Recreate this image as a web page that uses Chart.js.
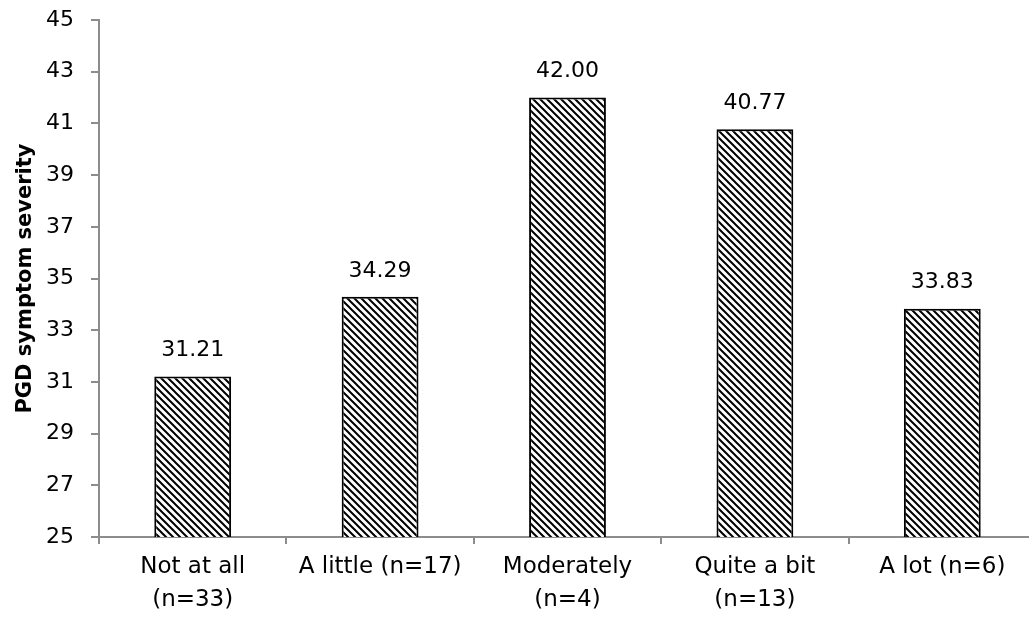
<!doctype html>
<html lang="en">
<head>
    <meta charset="utf-8">
    <title>PGD symptom severity</title>
    <script src="https://cdn.jsdelivr.net/npm/chart.js@4.4.0/dist/chart.umd.min.js"></script>
    <style>
        html, body { margin: 0; padding: 0; background: #fff; overflow: hidden; }
        #wrap { width: 1040px; height: 621px; }
    </style>
</head>
<body>
<div id="wrap"><canvas id="myChart"></canvas></div>
<script>
    // data
    const categories = [
        ["Not at all", "(n=33)"],
        ["A little (n=17)"],
        ["Moderately", "(n=4)"],
        ["Quite a bit", "(n=13)"],
        ["A lot (n=6)"]
    ];
    const severity = [31.21, 34.29, 42.00, 40.77, 33.83];
    const yMin = 25, yMax = 45, yStep = 2;

    // diagonal hatch fill
    let makeHatch = () => {
        const pc = document.createElement("canvas");
        pc.width = 7; pc.height = 7;
        const g = pc.getContext("2d");
        g.fillStyle = "#fff";
        g.fillRect(0, 0, 7, 7);
        g.strokeStyle = "#000";
        g.lineWidth = 2;
        g.beginPath();
        g.moveTo(-1, -1); g.lineTo(8, 8);
        g.moveTo(-1, 6); g.lineTo(1, 8);
        g.moveTo(6, -1); g.lineTo(8, 1);
        g.stroke();
        return g.createPattern(pc, "repeat");
    };

    const axisGray = "#8c8c8c";
    const fontFam = "'DejaVu Sans', sans-serif";

    // value labels above each bar
    const valueLabels = {
        id: "valueLabels",
        afterDatasetsDraw(chart) {
            const ctx = chart.ctx;
            const meta = chart.getDatasetMeta(0);
            ctx.save();
            ctx.font = "22px " + fontFam;
            ctx.fillStyle = "#000";
            ctx.textAlign = "center";
            ctx.textBaseline = "middle";
            meta.data.forEach((bar, i) => {
                ctx.fillText(severity[i].toFixed(2), bar.x, bar.y - 26);
            });
            ctx.restore();
        }
    };

    const ctx = document.getElementById("myChart");
    new Chart(ctx, {
        type: "bar",
        data: {
            labels: categories,
            datasets: [{
                data: severity,
                backgroundColor: makeHatch(),
                borderColor: "#000",
                borderWidth: 2,
                borderSkipped: false,
                categoryPercentage: 1,
                barPercentage: 0.41
            }]
        },
        options: {
            responsive: true,
            maintainAspectRatio: false,
            animation: false,
            layout: { padding: { top: 20, right: 4, left: 0, bottom: 0 } },
            plugins: {
                legend: { display: false },
                tooltip: { enabled: false }
            },
            scales: {
                x: {
                    afterFit(scale) {
                        scale.height = 84;
                        scale.paddingLeft = 0;
                        scale.paddingRight = 0;
                    },
                    grid: {
                        drawOnChartArea: false,
                        color: axisGray,
                        lineWidth: 2,
                        tickLength: 7
                    },
                    border: { color: axisGray, width: 2 },
                    ticks: {
                        color: "#000",
                        font: { family: fontFam, size: 23, lineHeight: 1.435 },
                        padding: 7,
                        maxRotation: 0,
                        autoSkip: false
                    }
                },
                y: {
                    min: yMin,
                    max: yMax,
                    afterFit(scale) {
                        scale.width = 99;
                        scale.paddingTop = 0;
                        scale.paddingBottom = 0;
                    },
                    grid: {
                        drawOnChartArea: false,
                        color: axisGray,
                        lineWidth: 2,
                        tickLength: 8
                    },
                    border: { color: axisGray, width: 2 },
                    ticks: {
                        stepSize: yStep,
                        color: "#000",
                        font: { family: fontFam, size: 22 },
                        padding: 17
                    },
                    title: {
                        display: true,
                        text: "PGD symptom severity",
                        color: "#000",
                        font: { family: fontFam, size: 21, weight: "bold" },
                        padding: { top: 13, bottom: 0 }
                    }
                }
            }
        },
        plugins: [valueLabels]
    });
</script>
</body>
</html>
